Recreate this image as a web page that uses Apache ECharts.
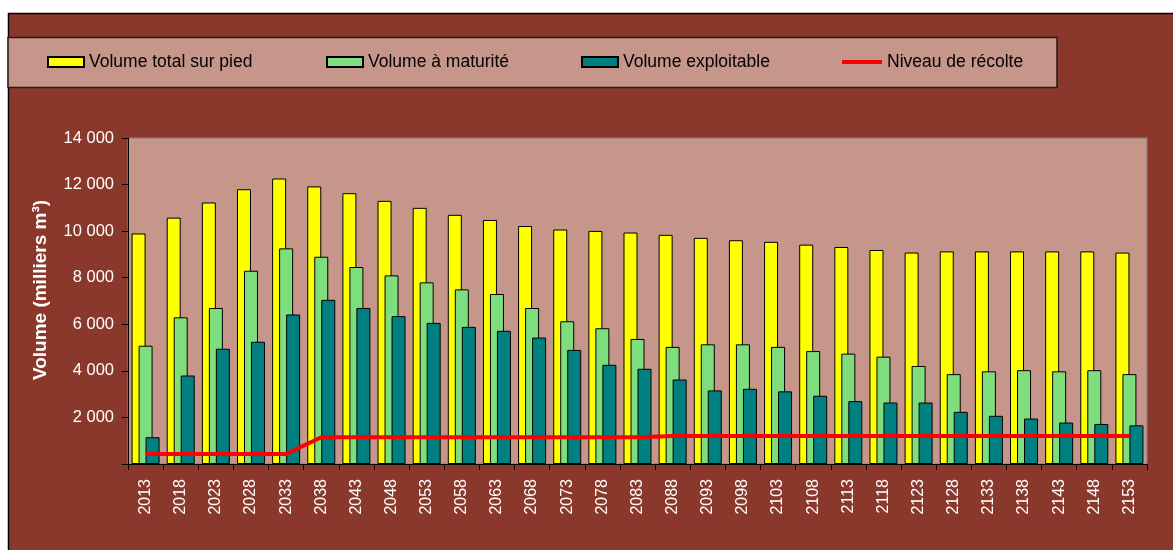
<!DOCTYPE html>
<html>
<head>
<meta charset="utf-8">
<script src="https://cdn.jsdelivr.net/npm/echarts@6/dist/echarts.min.js"></script>
<style>
html,body{margin:0;padding:0;background:#fff;}
#chart{width:1173px;height:550px;}
</style>
</head>
<body>
<div id="chart"></div>
<script>
const years = ['2013','2018','2023','2028','2033','2038','2043','2048','2053','2058','2063','2068','2073','2078','2083','2088','2093','2098','2103','2108','2113','2118','2123','2128','2133','2138','2143','2148','2153'];
const volumeTotal = [9900,10580,11230,11800,12260,11920,11630,11300,11000,10700,10480,10220,10070,10010,9940,9840,9710,9610,9540,9420,9320,9190,9080,9130,9130,9130,9130,9130,9080];
const volumeMaturite = [5080,6300,6700,8300,9260,8900,8460,8100,7800,7500,7300,6700,6130,5830,5370,5030,5140,5140,5030,4850,4740,4610,4210,3860,3980,4030,3980,4030,3860];
const volumeExploitable = [1150,3800,4950,5250,6420,7050,6700,6350,6060,5890,5720,5430,4900,4260,4090,3630,3160,3230,3120,2930,2700,2640,2640,2240,2070,1950,1780,1720,1660];
const niveauRecolte = [430,430,430,430,430,1150,1150,1150,1150,1150,1150,1150,1150,1150,1150,1200,1200,1200,1200,1200,1200,1200,1200,1200,1200,1200,1200,1200,1200];
const seriesNames = ['Volume total sur pied','Volume à maturité','Volume exploitable','Niveau de récolte'];
const yTicks = {min:0, max:14000, interval:2000};

const DARK = '#8B382C';
const PINK = '#C59689';
const FONT = 'Liberation Sans, Arial, sans-serif';

const chart = echarts.init(document.getElementById('chart'), null, {renderer:'canvas'});

function fmt(v){ return v === 0 ? '' : String(v).replace(/\B(?=(\d{3})+(?!\d))/g, ' '); }

const legendBase = {
  top: 52, padding: 0, selectedMode: false,
  itemWidth: 36, itemHeight: 10,
  textStyle: {color:'#000', fontSize:17.5, fontFamily:FONT, lineHeight:20}
};

const option = {
  backgroundColor: '#fff',
  animation: false,
  graphic: [
    {type:'rect', z:-10, shape:{x:8.5, y:13.5, width:1170, height:540}, style:{fill:DARK, stroke:'#000', lineWidth:1.5}},
    {type:'rect', z:-9, shape:{x:8, y:37.5, width:1049, height:50}, style:{fill:PINK, stroke:'#2a1a16', lineWidth:1.5}}
  ],
  legend: [
    Object.assign({}, legendBase, {left: 47, data:[{name: seriesNames[0], icon:'rect'}]}),
    Object.assign({}, legendBase, {left: 326, data:[{name: seriesNames[1], icon:'rect'}]}),
    Object.assign({}, legendBase, {left: 581, data:[{name: seriesNames[2], icon:'rect'}]}),
    Object.assign({}, legendBase, {left: 842, itemWidth: 40, itemHeight: 4, data:[{name: seriesNames[3], icon:'rect'}]})
  ],
  grid: {
    left: 128, right: 26, top: 138, bottom: 86,
    show: true, backgroundColor: PINK, borderColor: '#808080', borderWidth: 1
  },
  xAxis: {
    type: 'category',
    data: years,
    boundaryGap: true,
    axisLine: {lineStyle:{color:'#000', width:1}},
    axisTick: {show:true, length:6, lineStyle:{color:'#000'}},
    axisLabel: {rotate:90, color:'#fff', fontSize:16, fontFamily:FONT, margin:15, interval:0}
  },
  yAxis: {
    type: 'value',
    min: yTicks.min, max: yTicks.max, interval: yTicks.interval,
    name: 'Volume (milliers m³)',
    nameLocation: 'middle',
    nameGap: 78,
    nameTextStyle: {color:'#fff', fontSize:19, fontWeight:'bold', fontFamily:FONT, padding:[0,0,0,22]},
    axisLine: {show:true, lineStyle:{color:'#000', width:1}},
    axisTick: {show:true, length:6, lineStyle:{color:'#000'}},
    splitLine: {show:false},
    axisLabel: {color:'#fff', fontSize:16.5, fontFamily:FONT, margin:14, formatter: fmt}
  },
  series: [
    {name: seriesNames[0], type:'bar', data: volumeTotal, barWidth:14, barGap:'-50%',
     itemStyle:{color:'#FFFF00', borderColor:'#000', borderWidth:1}},
    {name: seriesNames[1], type:'bar', data: volumeMaturite, barWidth:14, barGap:'-50%',
     itemStyle:{color:'#7EDE7E', borderColor:'#000', borderWidth:1}},
    {name: seriesNames[2], type:'bar', data: volumeExploitable, barWidth:14, barGap:'-50%',
     itemStyle:{color:'#008080', borderColor:'#000', borderWidth:1}},
    {name: seriesNames[3], type:'line', data: niveauRecolte, symbol:'none', z:5,
     lineStyle:{color:'#FF0000', width:4}, itemStyle:{color:'#FF0000'}}
  ]
};
chart.setOption(option);
</script>
</body>
</html>
